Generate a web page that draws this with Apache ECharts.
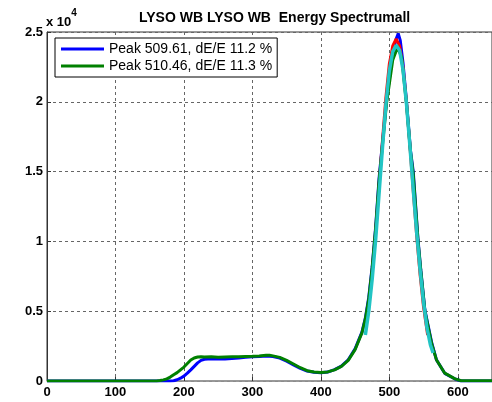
<!DOCTYPE html>
<html>
<head>
<meta charset="utf-8">
<script src="https://cdn.jsdelivr.net/npm/echarts@6/dist/echarts.min.js"></script>
<style>
  html, body { margin: 0; padding: 0; background: #fff; }
</style>
</head>
<body>
<div id="chart" style="width: 492px; height: 402px"></div>
<script>
  // axis ticks
  const xTicks = [0, 100, 200, 300, 400, 500, 600];
  const yTickLabels = ['0', '0.5', '1', '1.5', '2', '2.5'];

  // measured spectra [energy, counts]
  const blueData = [
    [0, 0], [180, 0], [185, 20], [190, 90], [195, 200], [200, 350], [205, 560], [210, 800],
    [215, 1050], [220, 1300], [225, 1480], [230, 1560], [235, 1580], [240, 1570], [250, 1590],
    [260, 1580], [270, 1610], [280, 1640], [290, 1700], [300, 1740], [310, 1760], [320, 1790],
    [330, 1760], [340, 1640], [350, 1420], [360, 1160], [370, 900], [380, 710], [390, 620],
    [400, 590], [410, 640], [420, 810], [430, 1060], [440, 1520], [450, 2300], [460, 3500],
    [465, 4500], [470, 6000], [475, 8200], [480, 11000], [485, 14500], [490, 17100], [496, 20100],
    [505, 23500], [510, 24500], [513, 24900], [516, 24400], [520, 22800], [525, 20100],
    [531, 16500], [535, 15000], [542, 10100], [546, 7950], [552, 5080], [562, 2720], [569, 1500],
    [581, 550], [596, 140], [605, 0], [650, 0]
  ];
  const greenData = [
    [0, 0], [160, 0], [165, 30], [170, 80], [175, 150], [180, 280], [185, 450], [190, 600],
    [195, 800], [200, 1000], [205, 1250], [210, 1500], [215, 1650], [220, 1720], [225, 1740],
    [230, 1720], [240, 1730], [250, 1710], [260, 1720], [270, 1730], [280, 1740], [290, 1760],
    [300, 1770], [310, 1790], [320, 1850], [325, 1840], [330, 1800], [340, 1690], [350, 1480],
    [360, 1220], [370, 950], [380, 740], [390, 640], [400, 610], [410, 650], [420, 800],
    [430, 1050], [440, 1480], [450, 2250], [460, 3450], [465, 4450], [470, 5900], [475, 8100],
    [480, 10900], [485, 14300], [490, 16900], [496, 19900], [505, 23000], [512, 23900],
    [518, 23200], [525, 19900], [531, 16400], [535, 14800], [542, 10000], [546, 7900],
    [552, 5000], [562, 2650], [569, 1500], [581, 560], [596, 150], [605, 20], [650, 20]
  ];
  // gaussian fits around the photopeak
  const redFit = [
    [470, 5600], [475, 7800], [480, 10600], [485, 13900], [490, 17200], [495, 20300],
    [500, 22700], [505, 24000], [510, 24500], [515, 24000], [520, 22500], [525, 20000],
    [530, 16900], [535, 13600], [540, 10400], [545, 7600], [550, 5300], [556, 3300]
  ];
  const cyanFit = [
    [465, 3300], [470, 5000], [475, 7300], [480, 10100], [485, 13400], [490, 16700],
    [495, 19800], [500, 22200], [505, 23600], [510, 24050], [515, 23700], [520, 22300],
    [525, 19900], [530, 16900], [535, 13700], [540, 10600], [545, 7900], [550, 5600],
    [555, 3800], [560, 2600], [564, 2000]
  ];

  const legendNames = ['Peak 509.61, dE/E 11.2 %', 'Peak 510.46, dE/E 11.3 %'];
  const font = '"Liberation Sans", Arial, sans-serif';

  const chart = echarts.init(document.getElementById('chart'));

  const lineSeries = (name, data, color, width, z) => ({
    name,
    type: 'line',
    data,
    showSymbol: false,
    lineStyle: { color, width },
    itemStyle: { color },
    z,
    silent: true
  });

  chart.setOption({
    animation: false,
    title: {
      text: 'LYSO WB LYSO WB  Energy Spectrumall',
      left: 134,
      top: 6,
      textStyle: { fontFamily: font, fontSize: 14, fontWeight: 'bold', color: '#000' }
    },
    graphic: [{
      type: 'text',
      left: 46,
      top: 8,
      style: {
        text: '{a|x 10}{b|4}',
        rich: {
          a: { fontFamily: font, fontSize: 13, fontWeight: 'bold', fill: '#000', padding: [8, 0, 0, 0] },
          b: { fontFamily: font, fontSize: 10, fontWeight: 'bold', fill: '#000', verticalAlign: 'top' }
        }
      }
    }],
    legend: {
      data: legendNames,
      orient: 'vertical',
      left: 55,
      top: 38,
      icon: 'rect',
      itemWidth: 43,
      itemHeight: 3,
      itemGap: 3,
      padding: [4, 5, 4, 6],
      borderColor: '#000',
      borderWidth: 1,
      borderRadius: 0,
      backgroundColor: '#fff',
      textStyle: { fontFamily: font, fontSize: 14, color: '#000' }
    },
    grid: {
      left: 47,
      right: 0,
      top: 32,
      bottom: 21,
      show: true,
      borderColor: '#333',
      borderWidth: 1
    },
    xAxis: {
      type: 'value',
      min: 0,
      max: 650,
      interval: 100,
      axisLine: { show: true, lineStyle: { color: '#999', width: 1.5 } },
      axisTick: { show: true, inside: true, length: 4, lineStyle: { color: '#333' } },
      axisLabel: {
        showMaxLabel: false,
        margin: 5,
        fontFamily: font,
        fontSize: 13,
        fontWeight: 'bold',
        color: '#000',
        formatter: (v) => (xTicks.includes(v) ? String(v) : '')
      },
      splitLine: { show: true, lineStyle: { color: '#666', type: [3, 3], width: 1 } }
    },
    yAxis: {
      type: 'value',
      min: 0,
      max: 25000,
      interval: 5000,
      axisLine: { show: true, lineStyle: { color: '#333' } },
      axisTick: { show: true, inside: true, length: 4, lineStyle: { color: '#333' } },
      axisLabel: {
        margin: 4,
        fontFamily: font,
        fontSize: 13,
        fontWeight: 'bold',
        color: '#000',
        formatter: (v) => yTickLabels[Math.round(v / 5000)]
      },
      splitLine: { show: true, lineStyle: { color: '#666', type: [3, 3], width: 1 } }
    },
    series: [
      lineSeries(legendNames[0], blueData, '#0000ff', 3, 2),
      lineSeries('fit1', redFit, '#ff0000', 3, 3),
      lineSeries(legendNames[1], greenData, '#008000', 3, 4),
      lineSeries('fit2', cyanFit, '#22c4c4', 3.5, 5)
    ]
  });
</script>
</body>
</html>
